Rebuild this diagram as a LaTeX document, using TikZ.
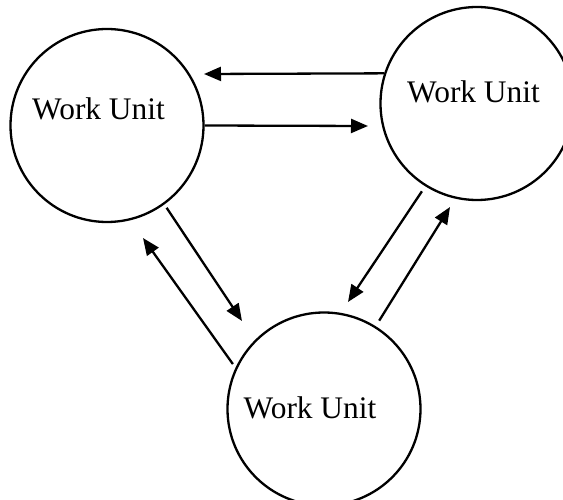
\documentclass[tikz,border=0pt]{standalone}
\usepackage{fontspec}
\setmainfont{Liberation Serif}
\usetikzlibrary{arrows.meta}
\begin{document}
\begin{tikzpicture}[x=1pt,y=-1pt,
  unit/.style={circle,draw,line width=2.3pt,minimum size=193pt,inner sep=0pt},
  lbl/.style={anchor=base,inner sep=0pt,font=\fontsize{31.4}{36}\selectfont},
  arr/.style={line width=2.3pt,-{Triangle[length=17pt,width=14pt]}}]
\useasboundingbox (0,0) rectangle (563,500);
\clip (0,0) rectangle (563,500);
\node[unit] (L) at (107,125.5) {};
\node[unit] (R) at (477,103.5) {};
\node[unit] (B) at (324,409) {};
\node[lbl] (Lt) at (98.5,120) {Work Unit};
\node[lbl] (Rt) at (473.5,103) {Work Unit};
\node[lbl] (Bt) at (310,418) {Work Unit};
\coordinate (t1) at (204,74);
\coordinate (t2) at (368,126);
\coordinate (t3) at (242,321);
\coordinate (t4) at (143,238);
\coordinate (t5) at (348,302);
\coordinate (t6) at (450,207);
\draw[arr] (R.162.2) -- (t1);
\draw[arr] (L.0) -- (t2);
\draw[arr,shorten <=4pt] (L.-54.9) -- (t3);
\draw[arr,shorten <=4.5pt] (B.155.5) -- (t4);
\draw[arr,shorten <=6pt] (R.-122.4) -- (t5);
\draw[arr,shorten <=6.5pt] (B.58.5) -- (t6);
\end{tikzpicture}
\end{document}
